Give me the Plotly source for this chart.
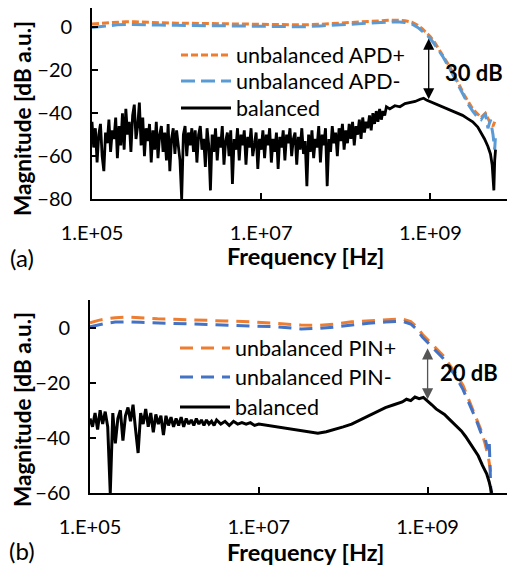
import plotly.graph_objects as go

# ---------------- data (log10 of frequency in Hz, magnitude in dB a.u.) ----------------
# Panel (a): APD
A_POS_LOGF = [5.0, 5.1, 5.2, 5.3, 5.4, 5.5, 5.6, 5.8, 6.0, 6.3, 6.6, 7.0, 7.3, 7.5, 7.7, 7.9, 8.1, 8.3, 8.5, 8.6,
              8.7, 8.78, 8.85, 8.9, 8.95, 9.0, 9.05, 9.1, 9.15, 9.2, 9.25, 9.3, 9.35, 9.4, 9.45, 9.5, 9.55, 9.6, 9.65, 9.7,
              9.74, 9.76]
A_POS_DB = [1.6, 1.9, 2.2, 2.5, 2.7, 2.6, 2.4, 2.2, 2.0, 1.8, 1.7, 1.6, 1.3, 1.2, 1.5, 2.0, 2.5, 3.0, 3.3, 3.4,
            3.1, 2.5, 1.0, -0.5, -2.2, -4.3, -7, -10, -13, -16.5, -20, -23.5, -27.5, -31.5, -35, -38, -40, -42, -40, -44,
            -46, -44]

A_NEG_LOGF = [5.0, 5.1, 5.2, 5.3, 5.4, 5.5, 5.6, 5.8, 6.0, 6.3, 6.6, 7.0, 7.3, 7.5, 7.7, 7.9, 8.1, 8.3, 8.5, 8.6,
              8.7, 8.78, 8.85, 8.9, 8.95, 9.0, 9.05, 9.1, 9.15, 9.2, 9.25, 9.3, 9.35, 9.4, 9.45, 9.5, 9.55, 9.6, 9.65, 9.68,
              9.71, 9.74, 9.76, 9.77]
A_NEG_DB = [0.0, 0.5, 0.9, 1.2, 1.4, 1.4, 1.3, 1.1, 1.0, 0.8, 0.7, 0.6, 0.3, 0.3, 0.7, 1.2, 1.8, 2.3, 2.6, 2.7,
            2.3, 1.6, 0.0, -1.5, -3.2, -5.2, -7.8, -10.8, -13.8, -17.2, -20.8, -24.5, -28.5, -32.5, -36, -39, -41.5, -43, -40, -47,
            -43, -50, -57, -50]

A_BAL_LOGF = [5.00, 5.02, 5.04, 5.06, 5.08, 5.10, 5.12, 5.14, 5.16, 5.18,
              5.20, 5.22, 5.24, 5.26, 5.28, 5.30, 5.32, 5.34, 5.36, 5.38,
              5.40, 5.42, 5.44, 5.46, 5.48, 5.50, 5.52, 5.54, 5.56, 5.58,
              5.60, 5.62, 5.64, 5.66, 5.68, 5.70, 5.72, 5.74, 5.76, 5.78,
              5.80, 5.82, 5.84, 5.86, 5.88, 5.90, 5.92, 5.94, 5.96, 5.98,
              6.00, 6.02, 6.04, 6.06, 6.08, 6.10, 6.12, 6.14, 6.16, 6.18,
              6.20, 6.22, 6.24, 6.26, 6.28, 6.30, 6.32, 6.34, 6.36, 6.38,
              6.40, 6.42, 6.44, 6.46, 6.48, 6.50, 6.52, 6.54, 6.56, 6.58,
              6.60, 6.62, 6.64, 6.66, 6.68, 6.70, 6.72, 6.74, 6.76, 6.78,
              6.80, 6.82, 6.84, 6.86, 6.88, 6.90, 6.92, 6.94, 6.96, 6.98,
              7.00, 7.02, 7.04, 7.06, 7.08, 7.10, 7.12, 7.14, 7.16, 7.18,
              7.20, 7.22, 7.24, 7.26, 7.28, 7.30, 7.32, 7.34, 7.36, 7.38,
              7.40, 7.42, 7.44, 7.46, 7.48, 7.50, 7.52, 7.54, 7.56, 7.58,
              7.60, 7.62, 7.64, 7.66, 7.68, 7.70, 7.72, 7.74, 7.76, 7.78,
              7.80, 7.82, 7.84, 7.86, 7.88, 7.90, 7.92, 7.94, 7.96, 7.98,
              8.00, 8.02, 8.04, 8.06, 8.08, 8.10, 8.12, 8.14, 8.16, 8.18,
              8.20, 8.22, 8.24, 8.26, 8.28, 8.30, 8.32, 8.34, 8.36, 8.38,
              8.40, 8.42, 8.44, 8.46, 8.48,
              8.52, 8.58, 8.64, 8.70, 8.76, 8.82, 8.88, 8.92, 8.96, 9.02,
              9.08, 9.14, 9.20, 9.26, 9.32, 9.38, 9.44, 9.50, 9.56, 9.60,
              9.64, 9.68, 9.71, 9.73, 9.74, 9.75, 9.76, 9.77]
A_BAL_DB = [-44, -56, -47, -63, -50, -45, -60, -67, -49, -54,
            -43, -58, -48, -52, -42, -61, -46, -55, -40, -57,
            -38, -50, -44, -58, -41, -36, -52, -46, -35, -55,
            -42, -60, -47, -53, -45, -63, -48, -57, -44, -61,
            -50, -46, -58, -49, -62, -45, -67, -52, -47, -59,
            -48, -56, -62, -80, -50, -46, -60, -49, -55, -47,
            -58, -48, -63, -50, -46, -57, -52, -65, -47, -55,
            -76, -50, -58, -47, -62, -51, -56, -46, -64, -53,
            -49, -60, -48, -73, -52, -57, -47, -62, -50, -55,
            -48, -64, -51, -56, -47, -60, -53, -49, -66, -52,
            -57, -48, -61, -50, -55, -47, -63, -52, -58, -49,
            -66, -51, -56, -48, -62, -50, -54, -47, -60, -52,
            -49, -64, -51, -57, -47, -59, -53, -74, -50, -58,
            -48, -61, -52, -56, -46, -63, -50, -55, -47, -74,
            -52, -58, -46, -54, -49, -60, -47, -53, -45, -57,
            -48, -54, -45, -52, -44, -55, -46, -50, -43, -52,
            -42, -49, -44, -47, -41, -48, -40, -45, -39, -44,
            -38, -43, -39, -41, -37,
            -38, -36.5, -37, -35.5, -35, -34.5, -33.5, -33, -34, -35,
            -36, -37, -38, -39, -40, -41, -42.5, -44, -46.5, -49,
            -52, -55.5, -59, -64, -70, -76, -62, -57]

# Panel (b): PIN
B_POS_LOGF = [5.0, 5.1, 5.2, 5.3, 5.45, 5.6, 5.8, 6.0, 6.3, 6.6, 6.9, 7.2, 7.5, 7.7, 7.9, 8.1, 8.3, 8.5, 8.7, 8.8,
              8.87, 8.94, 9.02, 9.1, 9.18, 9.26, 9.34, 9.42, 9.5, 9.57, 9.63, 9.68, 9.72, 9.75]
B_POS_DB = [1.7, 2.6, 3.2, 3.6, 3.8, 3.5, 3.2, 3.0, 2.8, 2.4, 2.1, 1.5, 0.9, 0.8, 1.2, 2.1, 2.5, 2.8, 3.1, 2.2,
            0.3, -2.5, -5.0, -7.5, -10, -13.5, -17, -21, -27, -32, -37, -42, -47, -53]

B_NEG_LOGF = [5.0, 5.1, 5.2, 5.3, 5.45, 5.6, 5.8, 6.0, 6.3, 6.6, 6.9, 7.2, 7.5, 7.7, 7.9, 8.1, 8.3, 8.5, 8.7, 8.8,
              8.87, 8.94, 9.02, 9.1, 9.18, 9.26, 9.34, 9.42, 9.5, 9.57, 9.63, 9.68, 9.71, 9.73, 9.75]
B_NEG_DB = [0.3, 1.0, 1.6, 2.0, 2.1, 1.9, 1.7, 1.5, 1.3, 1.0, 0.8, 0.3, -0.5, -0.3, 0.2, 1.0, 1.6, 2.0, 2.3, 1.3,
            -0.6, -3.5, -6.0, -8.5, -11, -14.5, -18, -22.5, -28, -33, -38, -40, -44, -41, -60]

B_BAL_LOGF = [5.00, 5.03, 5.06, 5.09, 5.12, 5.15, 5.18, 5.21, 5.24, 5.27,
              5.30, 5.33, 5.36, 5.39, 5.42, 5.45, 5.48, 5.51, 5.54, 5.57,
              5.60, 5.63, 5.66, 5.69, 5.72, 5.75, 5.78, 5.81, 5.84, 5.87,
              5.90, 5.93, 5.96, 5.99, 6.02, 6.05, 6.08, 6.11, 6.14, 6.17,
              6.20, 6.23, 6.26, 6.29, 6.32, 6.35, 6.38, 6.41, 6.44, 6.47,
              6.50, 6.55, 6.60, 6.65, 6.70, 6.75, 6.80, 6.85, 6.90, 6.95, 7.00,
              7.1, 7.2, 7.3, 7.4, 7.5, 7.6, 7.7, 7.8, 7.9, 8.0, 8.1, 8.2, 8.3, 8.4, 8.5, 8.6, 8.7,
              8.75, 8.8, 8.85, 8.9, 8.95, 9.0, 9.05, 9.1, 9.15, 9.2, 9.25, 9.3, 9.35, 9.4, 9.45, 9.5, 9.55, 9.6, 9.65, 9.7,
              9.73, 9.75, 9.76]
B_BAL_DB = [-33, -36, -31, -37, -30, -35, -30.5, -36, -60, -31,
            -42, -33, -30, -41, -32, -29, -34, -28, -37, -45.5,
            -31, -35, -29.5, -36, -31, -38, -31.5, -35, -32, -39,
            -32, -35.5, -32.5, -36, -33, -35.5, -32.5, -36, -33, -35,
            -33.5, -35.5, -33, -35, -33.5, -35.5, -33.5, -35, -34, -35.5,
            -33.5, -35, -34, -35.5, -34, -35, -34.5, -35, -34.5, -35.5, -35,
            -35.5, -35.8, -36.5, -37, -37.5, -38, -38.3, -37.8, -37, -36, -35, -33.5, -32, -30.5, -29, -28, -27,
            -26, -26.5, -25.2, -25.8, -25.3, -26.5, -28, -29.5, -30.5, -31.5, -33, -34.5, -36, -37.5, -39.5, -42, -44, -46.5, -50, -53,
            -56, -59, -60]

X_TICKS = [1e5, 1e7, 1e9]
X_TICK_TEXT = ["1.E+05", "1.E+07", "1.E+09"]
A_Y_TICKS = [-80, -60, -40, -20, 0]
B_Y_TICKS = [-60, -40, -20, 0]

ORANGE = "#ED7D31"
BLUE_A = "#5B9BD5"
BLUE_B = "#4472C4"
FONT = "Lato"


def hz(logs):
    return [10 ** v for v in logs]


# The page body has an 8px margin, so the figure is sized to fill the rest of the window.
OFF = 8
W, H = 515 - OFF, 565 - OFF


def px(p):  # reference pixel x -> paper x
    return (p - OFF) / W


def py(p):  # reference pixel y -> paper y
    return 1 - (p - OFF) / H


fig = go.Figure()

# panel (a)
fig.add_trace(go.Scatter(x=hz(A_POS_LOGF), y=A_POS_DB, mode="lines", name="unbalanced APD+",
                         line=dict(color=ORANGE, width=3, dash="7px,3px"), xaxis="x", yaxis="y", legend="legend"))
fig.add_trace(go.Scatter(x=hz(A_NEG_LOGF), y=A_NEG_DB, mode="lines", name="unbalanced APD-",
                         line=dict(color=BLUE_A, width=3, dash="14px,6px"), xaxis="x", yaxis="y", legend="legend2"))
fig.add_trace(go.Scatter(x=hz(A_BAL_LOGF), y=A_BAL_DB, mode="lines", name="balanced",
                         line=dict(color="black", width=2.8), xaxis="x", yaxis="y", legend="legend3"))
# panel (b)
fig.add_trace(go.Scatter(x=hz(B_POS_LOGF), y=B_POS_DB, mode="lines", name="unbalanced PIN+",
                         line=dict(color=ORANGE, width=3, dash="13px,8px"), xaxis="x2", yaxis="y2", legend="legend4"))
fig.add_trace(go.Scatter(x=hz(B_NEG_LOGF), y=B_NEG_DB, mode="lines", name="unbalanced PIN-",
                         line=dict(color=BLUE_B, width=3, dash="13px,8px"), xaxis="x2", yaxis="y2", legend="legend5"))
fig.add_trace(go.Scatter(x=hz(B_BAL_LOGF), y=B_BAL_DB, mode="lines", name="balanced",
                         line=dict(color="black", width=3), xaxis="x2", yaxis="y2", legend="legend6"))


def xax(domain, anchor):
    return dict(type="log", range=[5, 10], domain=domain, anchor=anchor,
                showline=True, linecolor="black", linewidth=1.5, mirror=False,
                ticks="inside", ticklen=6, tickwidth=1.5, tickcolor="black",
                tickvals=X_TICKS, ticktext=X_TICK_TEXT, showgrid=False, zeroline=False,
                tickfont=dict(family=FONT, size=20, color="black"), ticklabelstandoff=15,
                automargin=False)


def yax(domain, anchor, rng, ticks):
    return dict(range=rng, domain=domain, anchor=anchor,
                showline=True, linecolor="black", linewidth=1.8,
                ticks="inside", ticklen=6, tickwidth=1.5, tickcolor="black",
                tickvals=ticks, showgrid=False, zeroline=False,
                tickfont=dict(family=FONT, size=20, color="black"), ticklabelstandoff=14,
                automargin=False)


def leg(x_ref, y_ref):
    return dict(x=px(x_ref), y=py(y_ref), xanchor="left", yanchor="middle", bgcolor="rgba(0,0,0,0)",
                font=dict(family=FONT, size=21.5, color="black"), itemwidth=50, tracegroupgap=0)


# top panel: y axis spans -80..10 from ref y=199 up to ref y=6; the top 2px lie above the page area
A_TOP = 10 - (OFF - 6) * 80 / (199 - 28.5)
fig.update_layout(
    width=W, height=H,
    margin=dict(l=0, r=0, t=0, b=0, pad=0, autoexpand=False),
    paper_bgcolor="white", plot_bgcolor="white",
    xaxis=xax([px(92), 1.0], "y"),
    yaxis=yax([py(199), 1.0], "x", [-80, A_TOP], A_Y_TICKS),
    xaxis2=xax([px(90), px(512)], "y2"),
    yaxis2=yax([py(493), py(300)], "x2", [-60, 10], B_Y_TICKS),
    legend=leg(176, 55), legend2=leg(176, 81), legend3=leg(176, 108),
    legend4=leg(175, 348), legend5=leg(175, 377), legend6=leg(175, 407),
    showlegend=True,
)

ann = []
for ycen in (119, 410):
    ann.append(dict(text="<b>Magnitude [dB a.u.]</b>", x=px(22), y=py(ycen), xref="paper", yref="paper",
                    xanchor="center", yanchor="middle", textangle=-90, showarrow=False,
                    font=dict(family=FONT, size=22.5, color="black")))
for ycen in (256, 552):
    ann.append(dict(text="<b>Frequency [Hz]</b>", x=px(305), y=py(ycen), xref="paper", yref="paper",
                    xanchor="center", yanchor="middle", showarrow=False,
                    font=dict(family=FONT, size=23.5, color="black")))
ann.append(dict(text="(a)", x=px(22), y=py(257), xref="paper", yref="paper", xanchor="center", yanchor="middle",
                showarrow=False, font=dict(family=FONT, size=24, color="black")))
ann.append(dict(text="(b)", x=px(22), y=py(550), xref="paper", yref="paper", xanchor="center", yanchor="middle",
                showarrow=False, font=dict(family=FONT, size=24, color="black")))
# double arrows (data coords; log axis uses log10 values)
ann.append(dict(x=8.98, y=-33.5, ax=8.98, ay=-4.5, xref="x", yref="y", axref="x", ayref="y", text="",
                showarrow=True, arrowside="end+start", arrowhead=2, arrowsize=1.7, arrowwidth=1.3, arrowcolor="black"))
ann.append(dict(x=9.0, y=-26, ax=9.0, ay=-7, xref="x2", yref="y2", axref="x2", ayref="y2", text="",
                showarrow=True, arrowside="end+start", arrowhead=2, arrowsize=1.7, arrowwidth=1.3, arrowcolor="#555555"))
ann.append(dict(text="<b>30 dB</b>", x=px(474), y=py(72), xref="paper", yref="paper", xanchor="center",
                yanchor="middle", showarrow=False, font=dict(family=FONT, size=22, color="black")))
ann.append(dict(text="<b>20 dB</b>", x=px(469), y=py(372), xref="paper", yref="paper", xanchor="center",
                yanchor="middle", showarrow=False, font=dict(family=FONT, size=22, color="black")))
fig.update_layout(annotations=ann)

fig.write_html("out.html")
